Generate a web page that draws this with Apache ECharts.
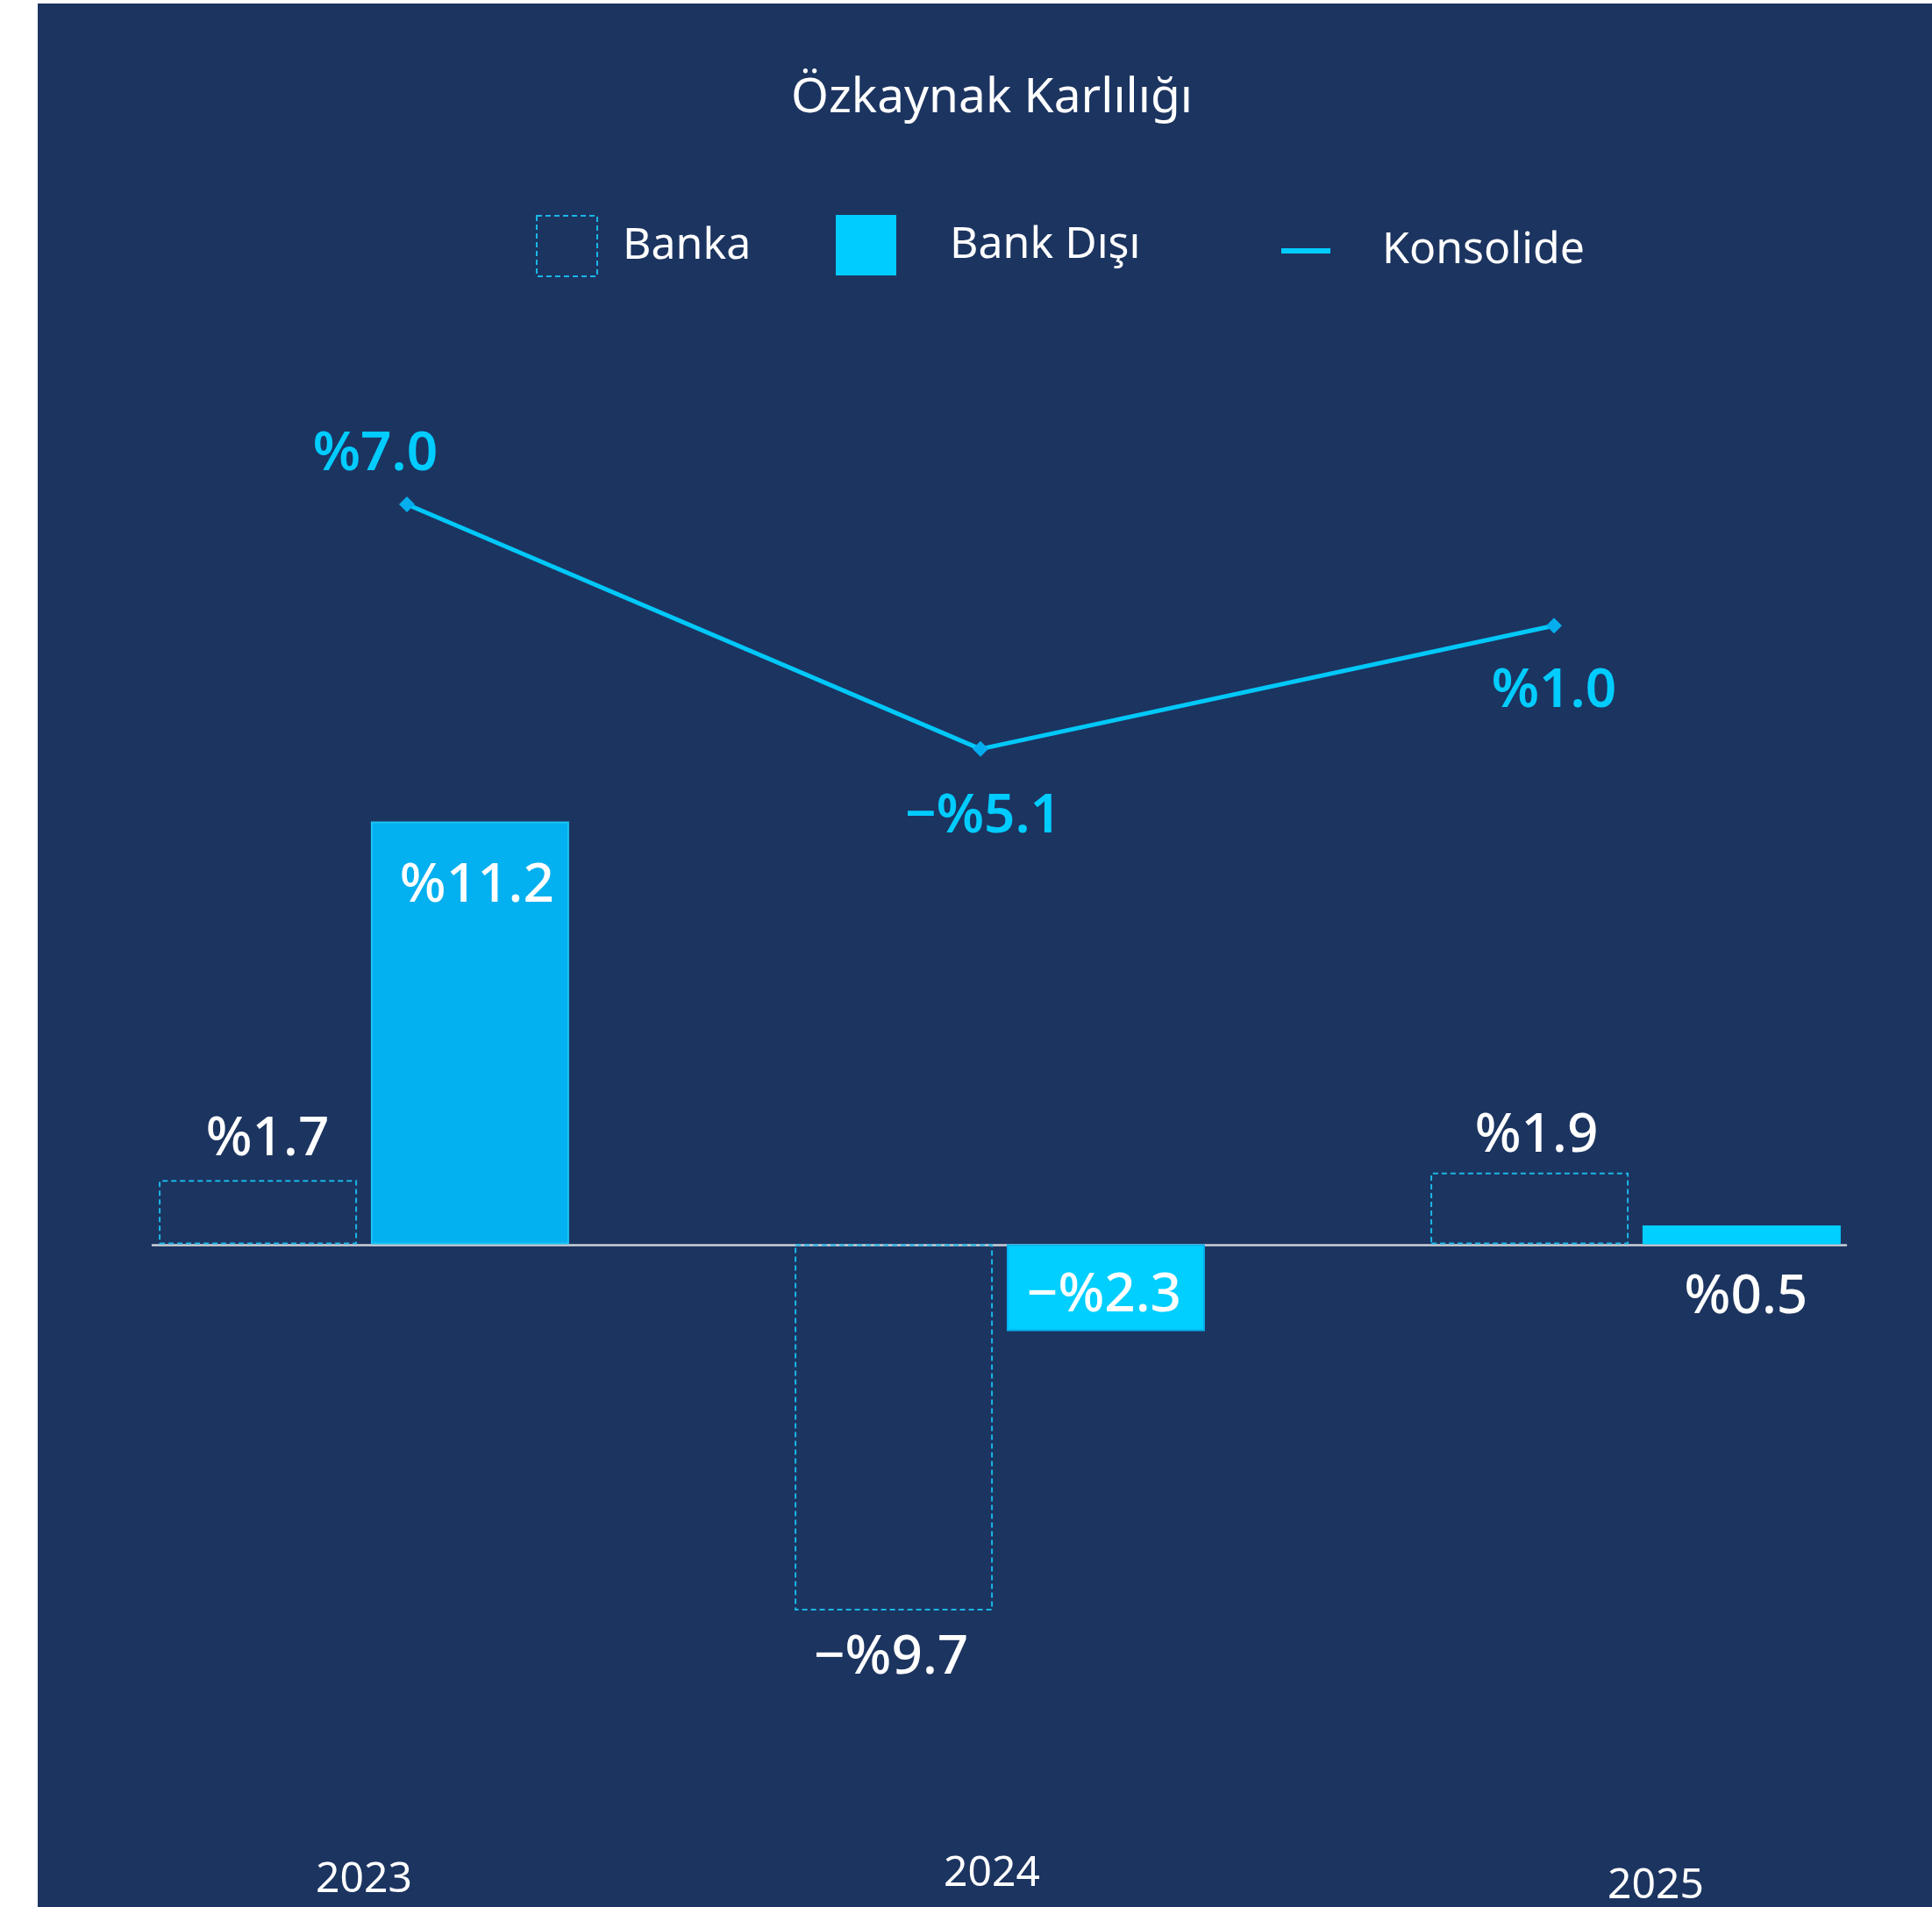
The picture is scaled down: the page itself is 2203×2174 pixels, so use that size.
<!DOCTYPE html>
<html><head><meta charset="utf-8">
<script src="https://cdn.jsdelivr.net/npm/echarts@6/dist/echarts.min.js"></script>
<style>
html,body{margin:0;padding:0;background:#fff;width:2203px;height:2174px;overflow:hidden}
#bg{position:absolute;left:43px;top:4px;right:0;bottom:0;background:#1c3460}
#chart{position:absolute;left:0;top:0;width:2203px;height:2174px}
</style></head><body><div id="bg"></div><div id="chart"></div>
<script>
const categories = ['2023', '2024', '2025'];
const bankaValues = [1.7, -9.7, 1.9];
const bankDisiValues = [11.2, -2.3, 0.5];
const konsolideValues = [7.0, -5.1, 1.0];
const seriesNames = ['Banka', 'Bank Dışı', 'Konsolide'];
const titleText = 'Özkaynak Karlılığı';

const FONT = '"Noto Sans", sans-serif';
function fmt(v) { return (v < 0 ? '−%' : '%') + Math.abs(v).toFixed(1); }

// label placement (styles, not data)
const bankaLabel = [
  { position: 'top', distance: 15, offset: [11, 0] },
  { position: 'bottom', distance: 23, offset: [-3, 0] },
  { position: 'top', distance: 10, offset: [8, 0] }
];
const bankDisiLabel = [
  { position: 'insideTop', distance: 43, offset: [8, 0] },
  { position: 'inside', offset: [-2, 9] },
  { position: 'bottom', distance: 30, offset: [5, 0] }
];
const bankDisiStyle = [
  { color: '#03b0f0', borderColor: '#1cc4f6', borderWidth: 2 },
  { color: '#00cfff', borderColor: '#05b2ee', borderWidth: 2 },
  { color: '#00cfff' }
];
const konsolideLabel = [
  { offset: [-36, -57] },
  { offset: [3, 77] },
  { offset: [0, 75] }
];

const barLabelBase = {
  show: true, color: '#ffffff', fontSize: 62, fontWeight: 500, fontFamily: FONT,
  formatter: p => fmt(p.value)
};

const chart = echarts.init(document.getElementById('chart'), null, { renderer: 'canvas' });
chart.setOption({
  animation: false,
  backgroundColor: 'transparent',
  textStyle: { fontFamily: FONT },
  title: {
    text: titleText, left: 1131, top: 85, padding: 0, textAlign: 'center',
    textStyle: { color: '#ffffff', fontSize: 55, fontWeight: 400, fontFamily: FONT }
  },
  legend: [
    {
      data: [{ name: seriesNames[0], icon: 'rect',
        itemStyle: { color: 'transparent', borderColor: '#1ab7e8', borderWidth: 2, borderType: [6, 4] } }],
      left: 611, top: 245, itemWidth: 69, itemHeight: 69, padding: 0, selectedMode: false,
      textStyle: { color: '#ffffff', fontSize: 50, fontFamily: FONT, padding: [0, 0, 0, 24] }
    },
    {
      data: [{ name: seriesNames[1], icon: 'rect', itemStyle: { color: '#00ccff', borderWidth: 0 } }],
      left: 953, top: 245, itemWidth: 69, itemHeight: 69, padding: 0, selectedMode: false,
      textStyle: { color: '#ffffff', fontSize: 50, fontFamily: FONT, padding: [0, 0, 0, 56] }
    },
    {
      data: [{ name: seriesNames[2], icon: 'rect', itemStyle: { color: '#00ccff' } }],
      left: 1461, top: 261, itemWidth: 56, itemHeight: 6, padding: 0, selectedMode: false,
      textStyle: { color: '#ffffff', fontSize: 50, fontFamily: FONT, padding: [0, 0, 0, 54] }
    }
  ],
  grid: [
    { left: 415, right: 338, top: 902, bottom: 237.6 },
    { left: 464, right: 431, top: 505.8, bottom: 1207.2 },
    { left: 174, right: 98, top: 902, bottom: 237.6 }
  ],
  xAxis: [
    {
      gridIndex: 0, type: 'category', data: categories, boundaryGap: false,
      axisLine: { show: false, onZero: false }, axisTick: { show: false }, splitLine: { show: false },
      axisLabel: {
        interval: 0, margin: 177, color: '#ffffff', fontSize: 48, fontFamily: FONT,
        formatter: (v, i) => '{y' + i + '|' + v + '}',
        rich: {
          y0: { color: '#ffffff', fontSize: 48, fontFamily: FONT, padding: [7, 0, 0, 0] },
          y1: { color: '#ffffff', fontSize: 48, fontFamily: FONT, padding: [0, 18, 0, 0] },
          y2: { color: '#ffffff', fontSize: 48, fontFamily: FONT, padding: [14, 0, 0, 46] }
        }
      }
    },
    {
      gridIndex: 1, type: 'category', data: categories, boundaryGap: false, show: false
    },
    {
      gridIndex: 2, type: 'category', data: categories,
      axisLine: { show: true, onZero: true, lineStyle: { color: '#cdd1d8', width: 2.5 } },
      axisTick: { show: false }, axisLabel: { show: false }, splitLine: { show: false }
    }
  ],
  yAxis: [
    { gridIndex: 0, type: 'value', min: -12, max: 12, show: false, splitLine: { show: false } },
    { gridIndex: 1, type: 'value', min: -10, max: 10, show: false, splitLine: { show: false } },
    { gridIndex: 2, type: 'value', min: -12, max: 12, show: false, splitLine: { show: false } }
  ],
  series: [
    {
      name: seriesNames[0], type: 'bar', xAxisIndex: 0, yAxisIndex: 0,
      barWidth: 226, barGap: '7%', clip: false, z: 3,
      itemStyle: { color: 'transparent', borderColor: '#1ab7e8', borderWidth: 2, borderType: [6, 4] },
      label: barLabelBase,
      data: bankaValues.map((v, i) => ({ value: v, label: bankaLabel[i] }))
    },
    {
      name: seriesNames[1], type: 'bar', xAxisIndex: 0, yAxisIndex: 0,
      barWidth: 226, barGap: '7%', clip: false, z: 2,
      itemStyle: { color: '#00ccff' },
      label: barLabelBase,
      data: bankDisiValues.map((v, i) => ({ value: v, label: bankDisiLabel[i], itemStyle: bankDisiStyle[i] }))
    },
    {
      name: seriesNames[2], type: 'line', xAxisIndex: 1, yAxisIndex: 1,
      symbol: 'diamond', symbolSize: 18, clip: false, z: 5,
      lineStyle: { color: '#00c8f8', width: 5 },
      itemStyle: { color: '#04aeee' },
      label: {
        show: true, position: 'inside', color: '#00ccff', fontSize: 62, fontWeight: 600, fontFamily: FONT,
        formatter: p => fmt(p.value)
      },
      data: konsolideValues.map((v, i) => ({ value: v, label: konsolideLabel[i] }))
    }
  ]
});
</script></body></html>
